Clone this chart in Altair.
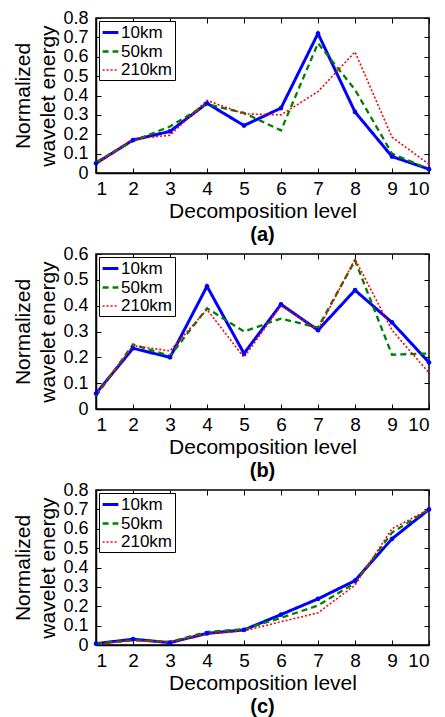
import altair as alt
import pandas as pd

levels = list(range(1, 11))
series_names = ["10km", "50km", "210km"]
series_colors = ["#0000ff", "#008000", "#ff0000"]

# Panel (a)
a_10km = [0.05, 0.17, 0.215, 0.36, 0.245, 0.335, 0.72, 0.315, 0.085, 0.02]
a_50km = [0.055, 0.165, 0.24, 0.355, 0.31, 0.22, 0.67, 0.43, 0.10, 0.02]
a_210km = [0.045, 0.175, 0.195, 0.375, 0.305, 0.30, 0.42, 0.625, 0.185, 0.045]

# Panel (b)
b_10km = [0.06, 0.235, 0.20, 0.475, 0.215, 0.405, 0.305, 0.46, 0.335, 0.18]
b_50km = [0.05, 0.25, 0.205, 0.39, 0.30, 0.35, 0.315, 0.575, 0.21, 0.215]
b_210km = [0.055, 0.245, 0.225, 0.385, 0.20, 0.40, 0.305, 0.58, 0.305, 0.14]

# Panel (c)
c_10km = [0.007, 0.03, 0.012, 0.06, 0.078, 0.157, 0.238, 0.332, 0.548, 0.70]
c_50km = [0.007, 0.024, 0.016, 0.068, 0.082, 0.14, 0.204, 0.32, 0.58, 0.70]
c_210km = [0.003, 0.024, 0.016, 0.056, 0.073, 0.12, 0.166, 0.309, 0.60, 0.70]

y_ticks_a = [0, 0.1, 0.2, 0.3, 0.4, 0.5, 0.6, 0.7, 0.8]
y_ticks_b = [0, 0.1, 0.2, 0.3, 0.4, 0.5, 0.6]
y_ticks_c = [0, 0.1, 0.2, 0.3, 0.4, 0.5, 0.6, 0.7, 0.8]

W = 333
H = 155
FONT = "Liberation Sans"


def panel(vals, ymax, yticks, caption):
    rows = []
    for name, v in zip(series_names, vals):
        for lv, e in zip(levels, v):
            rows.append({"level": lv, "energy": e, "series": name})
    df = pd.DataFrame(rows)

    x = alt.X(
        "level:Q",
        scale=alt.Scale(domain=[1, 10], nice=False, zero=False),
        axis=alt.Axis(
            values=levels, title="Decomposition level", ticks=False,
            labelPadding=6, titlePadding=2, labelOverlap=False, labelFontSize=19,
            grid=True, gridColor="black", gridOpacity=1, gridWidth=1,
            gridDash=[5, H - 10, 5, 100],
        ),
    )
    y = alt.Y(
        "energy:Q",
        scale=alt.Scale(domain=[0, ymax], nice=False),
        axis=alt.Axis(
            values=yticks, format="~g", title=["Normalized", "wavelet energy"],
            ticks=False, labelPadding=8, titlePadding=4, titleLineHeight=25,
            labelOverlap=False, labelFontSize=18,
            grid=True, gridColor="black", gridOpacity=1, gridWidth=1,
            gridDash=[5, W - 10, 5, 100],
        ),
    )
    color = alt.Color(
        "series:N",
        scale=alt.Scale(domain=series_names, range=series_colors),
        title=None,
        legend=alt.Legend(
            orient="top-left", offset=3, strokeColor="black", fillColor="white",
            padding=2, labelFontSize=17, labelFont=FONT, labelColor="black",
            symbolType="stroke", symbolSize=250, labelOffset=1, rowPadding=1,
            symbolStrokeWidth=2,
        ),
    )
    dash = alt.StrokeDash(
        "series:N",
        scale=alt.Scale(domain=series_names, range=[[1, 0], [6, 4], [2, 2]]),
        title=None,
    )
    width = alt.StrokeWidth(
        "series:N",
        scale=alt.Scale(domain=series_names, range=[3, 1.6, 1.4]),
        title=None,
    )
    lines = alt.Chart(df).mark_line().encode(
        x=x, y=y, color=color, strokeDash=dash, strokeWidth=width,
        order="level:Q",
    )
    dots = alt.Chart(df).transform_filter(
        alt.datum.series == "10km"
    ).mark_circle(size=22, opacity=1, color="#0000ff").encode(x=x, y=y)
    return alt.layer(lines, dots).properties(
        width=W, height=H,
        title=alt.TitleParams(
            caption, orient="bottom", fontSize=20, fontWeight="bold",
            font=FONT, offset=4, anchor="middle", color="black",
        ),
    )


pa = panel([a_10km, a_50km, a_210km], 0.8, y_ticks_a, "(a)")
pb = panel([b_10km, b_50km, b_210km], 0.6, y_ticks_b, "(b)")
pc = panel([c_10km, c_50km, c_210km], 0.8, y_ticks_c, "(c)")

chart = alt.vconcat(pa, pb, pc, spacing=81, bounds="flush").resolve_scale(
    x="independent", y="independent",
    color="independent", strokeDash="independent", strokeWidth="independent",
).resolve_legend(
    color="independent", strokeDash="independent", strokeWidth="independent",
).properties(
    padding={"left": 4, "top": 0, "right": 0, "bottom": 0},
    background="white",
).configure_view(
    stroke="black", strokeWidth=1.5
).configure_axis(
    labelFont=FONT, titleFont=FONT, titleFontSize=21,
    labelColor="black", titleColor="black", titleFontWeight="normal",
    domainColor="black", domainWidth=1.5,
)

chart.save("out.html", embed_options={"renderer": "svg", "actions": False})
